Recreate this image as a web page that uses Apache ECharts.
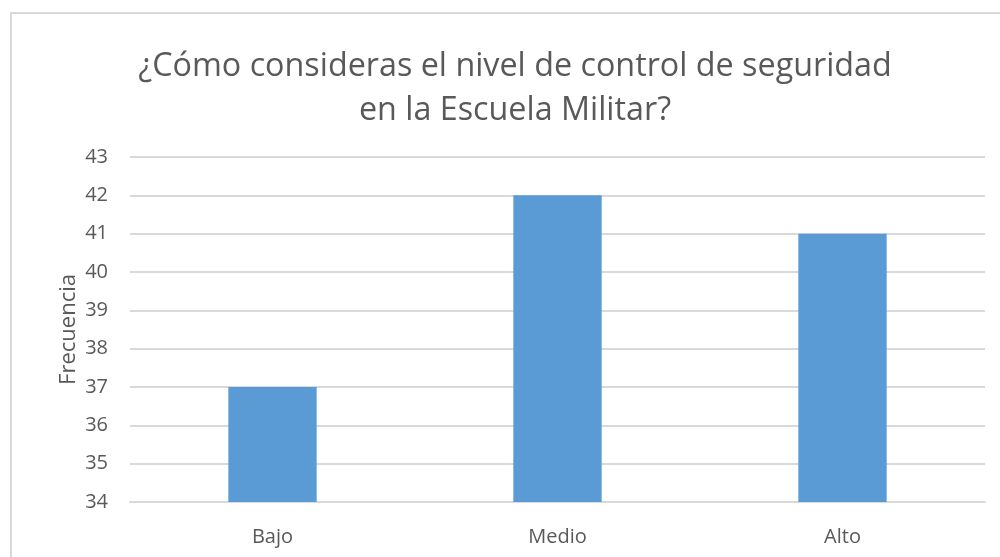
<!DOCTYPE html>
<html>
<head>
<meta charset="UTF-8">
<script src="https://cdn.jsdelivr.net/npm/echarts@6/dist/echarts.min.js"></script>
<style>
  html, body { margin: 0; padding: 0; background: #fff; overflow: hidden; }
  #frame { position: absolute; left: 10px; top: 12px; width: 1000px; height: 560px; border: 2px solid #d9d9d9; box-sizing: border-box; }
  #chart { position: absolute; left: 0; top: 0; width: 1000px; height: 557px; }
</style>
</head>
<body>
<div id="frame"></div>
<div id="chart"></div>
<script>
var categories = ['Bajo', 'Medio', 'Alto'];
var frecuencia = [37, 42, 41];
var yTicks = [34, 43, 1];

var chart = echarts.init(document.getElementById('chart'));
var option = {
  animation: false,
  title: {
    text: '¿Cómo consideras el nivel de control de seguridad\nen la Escuela Militar?',
    left: 510,
    top: 40,
    textAlign: 'center',
    textStyle: {
      fontFamily: 'Open Sans',
      fontWeight: 'normal',
      fontSize: 32.3,
      color: '#595959',
      lineHeight: 44
    }
  },
  grid: { left: 130, right: 15, top: 157, bottom: 55 },
  xAxis: {
    type: 'category',
    data: categories,
    axisLine: { show: true, lineStyle: { color: '#d9d9d9', width: 2 } },
    axisTick: { show: false },
    axisLabel: { color: '#595959', fontSize: 20, fontFamily: 'Open Sans', margin: 25 }
  },
  yAxis: {
    type: 'value',
    min: yTicks[0],
    max: yTicks[1],
    interval: yTicks[2],
    name: 'Frecuencia',
    nameLocation: 'middle',
    nameRotate: 90,
    nameGap: 50,
    nameMoveOverlap: false,
    nameTextStyle: { color: '#595959', fontSize: 22, fontFamily: 'Open Sans' },
    axisLine: { show: false },
    axisTick: { show: false },
    axisLabel: { color: '#595959', fontSize: 20, fontFamily: 'Open Sans', margin: 22 },
    splitLine: { lineStyle: { color: '#d9d9d9', width: 2 } }
  },
  series: [{
    type: 'bar',
    data: frecuencia,
    barWidth: '31%',
    itemStyle: { color: '#5b9bd5' }
  }]
};
chart.setOption(option);
</script>
</body>
</html>
